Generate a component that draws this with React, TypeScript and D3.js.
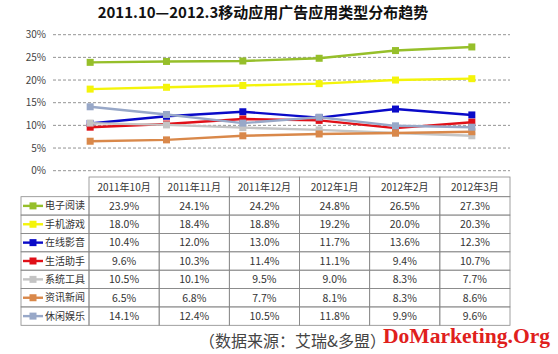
import React from "react";
import * as d3 from "d3";

const months = ["2011年10月", "2011年11月", "2011年12月", "2012年1月", "2012年2月", "2012年3月"];
const categories = ["电子阅读", "手机游戏", "在线影音", "生活助手", "系统工具", "资讯新闻", "休闲娱乐"];
const ebook = [23.9, 24.1, 24.2, 24.8, 26.5, 27.3];
const games = [18.0, 18.4, 18.8, 19.2, 20.0, 20.3];
const video = [10.4, 12.0, 13.0, 11.7, 13.6, 12.3];
const life = [9.6, 10.3, 11.4, 11.1, 9.4, 10.7];
const tools = [10.5, 10.1, 9.5, 9.0, 8.3, 7.7];
const news = [6.5, 6.8, 7.7, 8.1, 8.3, 8.6];
const leisure = [14.1, 12.4, 10.5, 11.8, 9.9, 9.6];
const yTicks = [0, 5, 10, 15, 20, 25, 30];

const seriesValues = [ebook, games, video, life, tools, news, leisure];
const colors = ["#96bf2a", "#f4f40a", "#0a0ac8", "#e01018", "#c4c4c4", "#d9884a", "#98a8c8"];

const W = 558;
const H = 354;
const font = "'Noto Sans CJK SC', 'DejaVu Sans', sans-serif";

export default function App() {
  const x = d3.scalePoint<string>().domain(months).range([52, 510]).padding(0.5);
  const y = d3.scaleLinear().domain([0, 30]).range([170.7, 34.7]);
  const line = d3
    .line<number>()
    .x((_, i) => x(months[i]) as number)
    .y((d) => y(d));

  // table geometry
  const col = d3.scaleBand<string>().domain(months).range([89, 510]);
  const tableLeft = 21;
  const headTop = 177;
  const headBottom = 196.7;
  const row = d3.scaleBand<string>().domain(categories).range([headBottom, 325.3]);

  return (
    <svg
      width={W}
      height={H}
      style={{ position: "absolute", left: 0, top: 0, background: "#fff" }}
      fontFamily={font}
    >
      <rect width={W} height={H} fill="#fff" />
      <text x={263} y={18} textAnchor="middle" fontSize={15} fontWeight="bold" fill="#111">
        2011.10—2012.3移动应用广告应用类型分布趋势
      </text>

      {yTicks.map((t) => (
        <g key={t}>
          <line x1={53} x2={510} y1={y(t)} y2={y(t)} stroke="#777" strokeDasharray="3,2" strokeWidth={0.8} />
          <text x={46} y={y(t) + 3.5} textAnchor="end" fontSize={10} fill="#444">
            {t}%
          </text>
        </g>
      ))}

      {seriesValues.map((vals, si) => (
        <g key={categories[si]}>
          <path d={line(vals) ?? ""} fill="none" stroke={colors[si]} strokeWidth={2.4} />
          {vals.map((v, i) => (
            <rect
              key={i}
              x={(x(months[i]) as number) - 3.5}
              y={y(v) - 3.5}
              width={7}
              height={7}
              fill={colors[si]}
            />
          ))}
        </g>
      ))}

      {/* table header */}
      {months.map((m) => (
        <g key={m}>
          <rect
            x={col(m)}
            y={headTop}
            width={col.bandwidth()}
            height={headBottom - headTop}
            fill="none"
            stroke="#888"
            strokeWidth={0.8}
          />
          <text
            x={(col(m) as number) + col.bandwidth() / 2}
            y={headTop + 13.5}
            textAnchor="middle"
            fontSize={10}
            fill="#333"
          >
            {m}
          </text>
        </g>
      ))}

      {categories.map((c, si) => {
        const ry = row(c) as number;
        const rh = row.bandwidth();
        return (
          <g key={c}>
            <rect x={tableLeft} y={ry} width={89 - tableLeft} height={rh} fill="none" stroke="#888" strokeWidth={0.8} />
            <line x1={23} x2={43} y1={ry + rh / 2} y2={ry + rh / 2} stroke={colors[si]} strokeWidth={2.4} />
            <rect x={29.5} y={ry + rh / 2 - 3.5} width={7} height={7} fill={colors[si]} />
            <text x={45} y={ry + rh / 2 + 3.6} fontSize={10} fill="#333">
              {c}
            </text>
            {months.map((m, i) => (
              <g key={m}>
                <rect x={col(m)} y={ry} width={col.bandwidth()} height={rh} fill="none" stroke="#888" strokeWidth={0.8} />
                <text
                  x={(col(m) as number) + col.bandwidth() / 2}
                  y={ry + rh / 2 + 3.8}
                  textAnchor="middle"
                  fontSize={10.5}
                  fill="#333"
                >
                  {seriesValues[si][i].toFixed(1)}%
                </text>
              </g>
            ))}
          </g>
        );
      })}

      <text x={199} y={347} fontSize={16} fill="#444">
        （数据来源：艾瑞&amp;多盟）
      </text>
      <text
        x={383}
        y={343}
        fontSize={20}
        fontWeight="bold"
        fill="#e0201c"
        fontFamily="'Liberation Serif', serif"
        textLength={167}
        lengthAdjust="spacingAndGlyphs"
      >
        DoMarketing.Org
      </text>
    </svg>
  );
}
